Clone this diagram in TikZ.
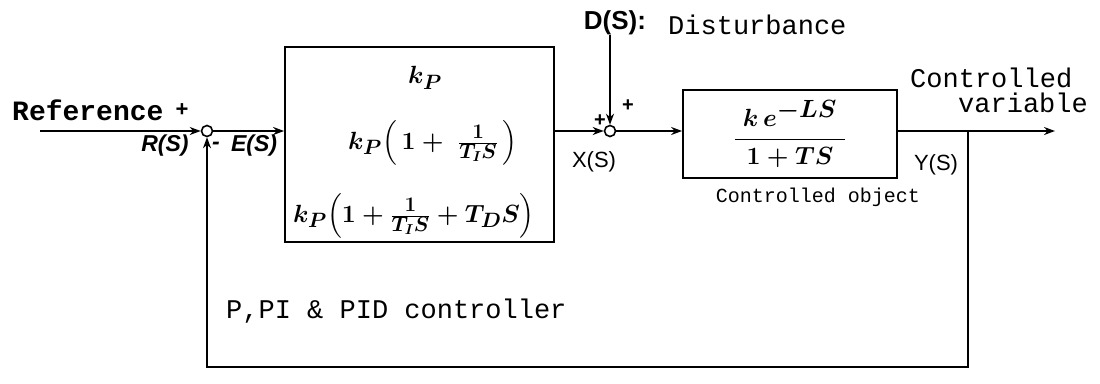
\documentclass[tikz,border=0pt]{standalone}
\usepackage{fontspec}
\usepackage{amsmath}
\usetikzlibrary{arrows.meta}
\newfontfamily\monof{Liberation Mono}
\newfontfamily\sansf{Liberation Sans}
\tikzset{
  wire/.style={line width=1.8pt},
  arr/.style={wire, line join=miter, -{Stealth[length=11pt,width=8pt]}},
  blk/.style={draw, line width=1.8pt, inner sep=0pt},
  sumj/.style={draw, circle, line width=1.6pt, minimum size=11pt, inner sep=0pt},
  lbl/.style={inner sep=0pt},
  mono/.style={lbl, font=\monof\fontsize{27}{30}\selectfont},
  monosm/.style={lbl, font=\monof\fontsize{20}{24}\selectfont},
  sig/.style={lbl, font=\sansf\bfseries\itshape\fontsize{23}{26}\selectfont},
  sigu/.style={lbl, font=\sansf\fontsize{22}{26}\selectfont},
  frm/.style={lbl, font=\fontsize{31}{36}\selectfont\boldmath},
}
\begin{document}
\begin{tikzpicture}[x=1pt,y=-1pt]
\useasboundingbox (0,0) rectangle (1100,383);
% blocks and junctions
\node[sumj] (s1) at (207,131) {};
\node[sumj] (s2) at (610,131) {};
\node[blk, minimum width=269pt, minimum height=195pt] (b1) at (419.5,144.5) {};
\node[blk, minimum width=214pt, minimum height=88pt] (b2) at (790,134) {};
% formulas
\node[frm] (f1) at (425,78) {$k_P$};
\node[frm] (f2) at (433,143) {$k_P\Bigl(\,1+\;\frac{1}{T_I S}\,\Bigr)$};
\node[frm] (f3) at (414,216) {$k_P\Bigl(1+\frac{1}{T_I S}+T_D S\Bigr)$};
\node[lbl, font=\fontsize{33}{38}\selectfont\boldmath] (g) at (790,134) {$\dfrac{\;k\,e^{-LS}\;}{1+TS}$};
% coordinates
\coordinate (rin) at (40,131);
\coordinate (yout) at (1055,131);
\coordinate (fbtap) at (968,131);
\coordinate (fbr) at (968,367);
\coordinate (fbl) at (207,367);
% labels
\node[lbl, font=\monof\bfseries\fontsize{28}{30}\selectfont, anchor=base west] (ref) at (12,120) {Reference};
\node[lbl, font=\sansf\bfseries\fontsize{22}{26}\selectfont] (refp) at (182,110) {+};
\node[sig] (rs) at (165,146) {R(S)};
\node[sig] (ms) at (216,146) {-};
\node[sig] (es) at (254,146) {E(S)};
\node[lbl, font=\sansf\bfseries\fontsize{26}{30}\selectfont] (ds) at (615,23) {D(S):};
\node[mono, anchor=west] (dist) at (668,25) {Disturbance};
\node[lbl, font=\sansf\bfseries\fontsize{20}{24}\selectfont] (p1) at (600,121) {+};
\node[lbl, font=\sansf\bfseries\fontsize{20}{24}\selectfont] (p2) at (628,106) {+};
\node[sigu] (xs) at (594,162) {X(S)};
\node[sigu] (ys) at (936,165) {Y(S)};
\node[monosm] (obj) at (818,197) {Controlled object};
\node[mono, anchor=west] (cv1) at (910,78) {Controlled};
\node[mono, anchor=west] (cv2) at (958,103) {variable};
\node[mono, anchor=west] (pid) at (226,311) {P,PI \& PID controller};
% connectors
\draw[arr] (rin) -- (s1);
\draw[arr] (s1) -- (s1 -| b1.west);
\draw[arr] (b1.east |- s2) -- (s2);
\draw[arr] (ds.south -| s2) -- (s2);
\draw[arr] (s2) -- (s2 -| b2.west);
\draw[arr] (b2.east |- yout) -- (yout);
\draw[arr] (fbtap) -- (fbr) -- (fbl) -- (s1);
\end{tikzpicture}
\end{document}
